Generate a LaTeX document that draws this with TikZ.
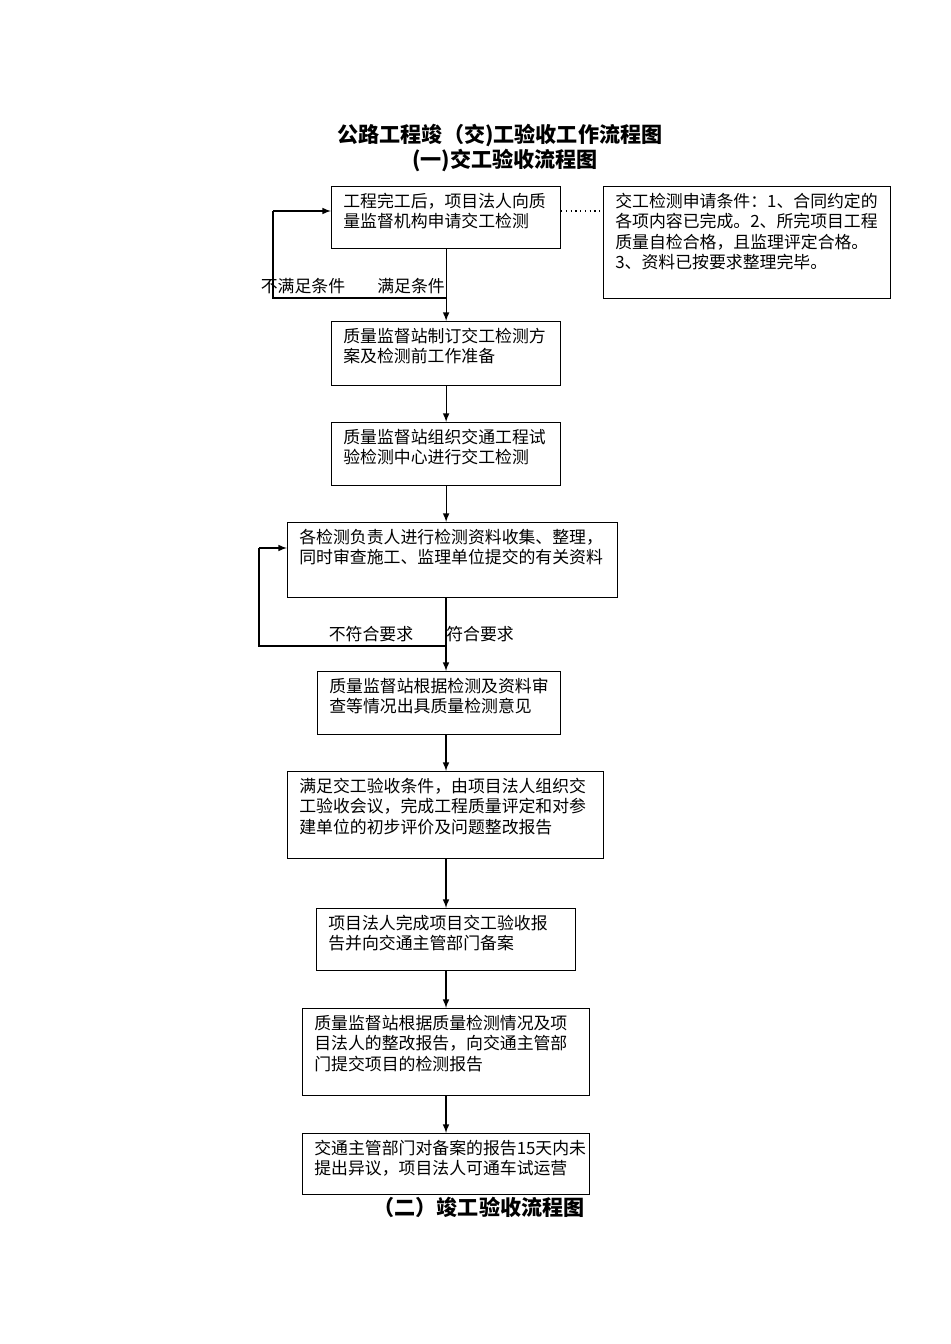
\documentclass[tikz,border=0pt]{standalone}
\usepackage{fontspec}
\newfontfamily\cjk{Noto Sans CJK SC}
\begin{document}
\begin{tikzpicture}[x=0.02cm,y=-0.02cm,
 box/.style={draw,line width=0.7pt,anchor=north west,inner sep=0pt},
 txt/.style={anchor=north west,align=left,inner sep=0pt,font=\cjk\fontsize{9.6}{11.5}\selectfont},
 lab/.style={inner sep=0pt,font=\cjk\fontsize{9.6}{11.5}\selectfont},
 ttl/.style={inner sep=0pt,font=\cjk\bfseries\fontsize{12}{14}\selectfont},
 arr/.style={-latex,line width=0.7pt},
 ln/.style={line width=0.7pt}]
\useasboundingbox (0,0) rectangle (950,1344);
\node[ttl] (t1) at (500,136) {公路工程竣（交)工验收工作流程图};
\node[ttl] (t2) at (505,161) {(一)交工验收流程图};
\node[ttl] (t3) at (479,1207) {（二）竣工验收流程图};
\newcommand{\bx}[6]{\node[box,minimum width=#4*0.02cm,minimum height=#5*0.02cm] (#1) at (#2,#3) {};
 \node[txt] at ([xshift=12*0.02cm,yshift=-7*0.02cm]#1.north west) {#6};}
\bx{b1}{331}{186}{229}{62}{工程完工后，项目法人向质\\量监督机构申请交工检测}
\bx{n}{603}{186}{287}{112}{交工检测申请条件：1、合同约定的\\各项内容已完成。2、所完项目工程\\质量自检合格，且监理评定合格。\\3、资料已按要求整理完毕。}
\bx{b2}{331}{321}{229}{64}{质量监督站制订交工检测方\\案及检测前工作准备}
\bx{b3}{331}{422}{229}{63}{质量监督站组织交通工程试\\验检测中心进行交工检测}
\bx{b4}{287}{522}{330}{75}{各检测负责人进行检测资料收集、整理，\\同时审查施工、监理单位提交的有关资料}
\bx{b5}{317}{671}{243}{63}{质量监督站根据检测及资料审\\查等情况出具质量检测意见}
\bx{b6}{287}{771}{316}{87}{满足交工验收条件，由项目法人组织交\\工验收会议，完成工程质量评定和对参\\建单位的初步评价及问题整改报告}
\bx{b7}{316}{908}{259}{62}{项目法人完成项目交工验收报\\告并向交通主管部门备案}
\bx{b8}{302}{1008}{287}{87}{质量监督站根据质量检测情况及项\\目法人的整改报告，向交通主管部\\门提交项目的检测报告}
\bx{b9}{302}{1133}{287}{61}{交通主管部门对备案的报告15天内未\\提出异议，项目法人可通车试运营}
\coordinate (p1) at (446,298);
\coordinate (p2) at (273,298);
\coordinate (p3) at (273,211);
\draw[ln,dotted] (b1.east |- 0,211) -- (n.west |- 0,211);
\draw[arr] (b1.south) -- (b2.north);
\draw[ln] (p1) -- (p2) -- (p3);
\draw[arr] (p3) -- (b1.west |- p3);
\node[lab] (l1) at (303,286) {不满足条件};
\node[lab] (l2) at (411,286) {满足条件};
\draw[arr] (b2.south) -- (b3.north);
\draw[arr] (b3.south) -- (b4.north -| b3.south);
\coordinate (q1) at (446,646);
\coordinate (q2) at (259,646);
\coordinate (q3) at (259,548);
\draw[arr] (b4.south -| q1) -- (b5.north -| q1);
\draw[ln] (q1) -- (q2) -- (q3);
\draw[arr] (q3) -- (b4.west |- q3);
\node[lab] (l3) at (371,634) {不符合要求};
\node[lab] (l4) at (480,634) {符合要求};
\draw[arr] (b5.south -| q1) -- (b6.north -| q1);
\draw[arr] (b6.south -| q1) -- (b7.north -| q1);
\draw[arr] (b7.south -| q1) -- (b8.north -| q1);
\draw[arr] (b8.south -| q1) -- (b9.north -| q1);
\end{tikzpicture}
\end{document}
